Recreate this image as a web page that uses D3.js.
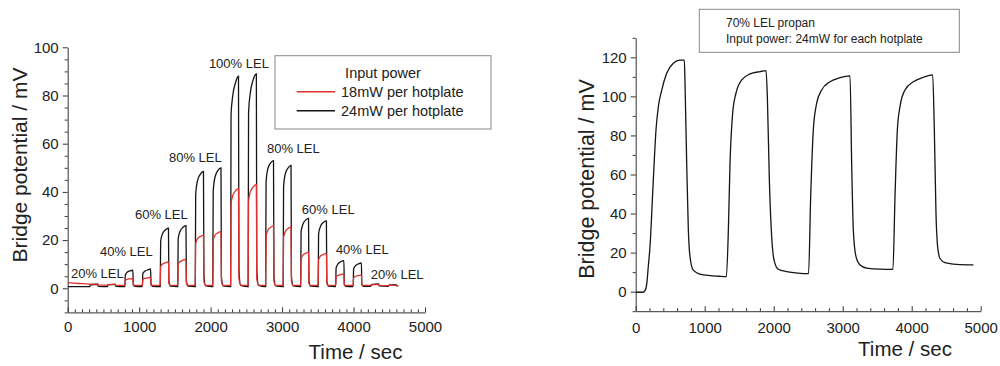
<!DOCTYPE html>
<html>
<head>
<meta charset="utf-8">
<script src="https://cdn.jsdelivr.net/npm/d3@7"></script>
<style>
  body { margin: 0; background: #fff; }
  svg { display: block; font-family: "Liberation Sans", Arial, sans-serif; }
</style>
</head>
<body>
<svg id="chart" width="1000" height="366"></svg>
<script>
// ---- left panel: 18 / 24 mW per hotplate, LEL steps ----
const black24 = [
  [0,0.7],[300,0.7],
  [310,0.7],[318,1.4],[420,1.6],[428,0.8],[550,0.7],
  [555,0.7],[562,1.4],[665,1.6],[673,0.8],[795,0.7],
  [800,0.7],[806,5.5],[830,6.6],[870,7.2],[912,7.5],[918,1.5],[940,0.8],[1040,0.7],
  [1045,0.7],[1051,6],[1075,7],[1115,7.6],[1160,8],[1166,1.5],[1190,0.8],[1290,0.7],
  [1295,0.7],[1301,19.5],[1325,22.5],[1365,24.2],[1410,25],[1416,3],[1440,0.9],[1535,0.7],
  [1540,0.7],[1546,20.5],[1570,23.5],[1610,25.2],[1655,26],[1661,3],[1685,0.9],[1780,0.7],
  [1785,0.7],[1791,39],[1815,44.5],[1855,47.3],[1900,48.5],[1906,5],[1930,1],[2025,0.7],
  [2030,0.7],[2036,40],[2060,46],[2100,48.8],[2145,50],[2151,5],[2175,1],[2275,0.7],
  [2280,0.7],[2286,72],[2310,80],[2350,85.5],[2390,88],[2396,8],[2420,1.2],[2520,0.7],
  [2525,0.7],[2531,73],[2555,81],[2595,86.5],[2640,89],[2646,8],[2670,1.2],[2765,0.7],
  [2770,0.7],[2776,44],[2800,49.5],[2840,52],[2880,53],[2886,5],[2910,1],[3010,0.7],
  [3015,0.7],[3021,42],[3045,47.5],[3085,50],[3125,51],[3131,5],[3155,1],[3255,0.7],
  [3260,0.7],[3266,23.5],[3290,26.5],[3330,28.3],[3370,29],[3376,3],[3400,0.9],[3500,0.7],
  [3505,0.7],[3511,22.5],[3535,25.5],[3575,27.3],[3620,28],[3626,3],[3650,0.9],[3745,0.7],
  [3750,0.7],[3756,8.5],[3780,10],[3820,11],[3865,11.5],[3871,1.5],[3895,0.8],[3990,0.7],
  [3995,0.7],[4001,8],[4025,9.3],[4065,10.1],[4110,10.5],[4116,1.5],[4140,0.8],[4235,0.8],
  [4240,0.8],[4248,1.5],[4350,1.8],[4358,1],[4480,0.8],
  [4485,0.8],[4493,1.3],[4595,1.5],[4603,1],[4625,1]
];

const red18 = [
  [0,2.4],[150,2.0],[300,1.7],
  [310,1.6],[318,1.7],[420,1.8],[428,1.4],[550,1.3],
  [555,1.3],[562,1.5],[665,1.7],[673,1.3],[795,1.2],
  [800,1.2],[806,3.2],[830,3.7],[870,3.9],[912,4],[918,1.6],[940,1.2],[1040,1.2],
  [1045,1.2],[1051,3.6],[1075,4.1],[1115,4.3],[1160,4.5],[1166,1.6],[1190,1.2],[1290,1.2],
  [1295,1.2],[1301,9],[1325,10],[1365,10.6],[1410,11],[1416,2],[1440,1.2],[1535,1.2],
  [1540,1.2],[1546,10],[1570,11],[1610,11.6],[1655,12],[1661,2],[1685,1.2],[1780,1.2],
  [1785,1.2],[1791,18.5],[1815,20.5],[1855,21.5],[1900,22],[1906,3],[1930,1.2],[2025,1.2],
  [2030,1.2],[2036,19.5],[2060,22],[2100,23],[2145,23.5],[2151,3],[2175,1.2],[2275,1.2],
  [2280,1.2],[2286,35],[2310,38.5],[2350,40.5],[2390,41.5],[2396,4],[2420,1.3],[2520,1.2],
  [2525,1.2],[2531,36],[2555,40],[2595,42],[2640,43],[2646,4],[2670,1.3],[2765,1.2],
  [2770,1.2],[2776,21.5],[2800,24],[2840,25.3],[2880,26],[2886,3],[2910,1.2],[3010,1.2],
  [3015,1.2],[3021,21],[3045,23.5],[3085,24.8],[3125,25.5],[3131,3],[3155,1.2],[3255,1.2],
  [3260,1.2],[3266,12],[3290,13.7],[3330,14.5],[3370,15],[3376,2],[3400,1.2],[3500,1.2],
  [3505,1.2],[3511,11.8],[3535,13.3],[3575,14],[3620,14.5],[3626,2],[3650,1.2],[3745,1.2],
  [3750,1.2],[3756,4.6],[3780,5.3],[3820,5.7],[3865,6],[3871,1.5],[3895,1.2],[3990,1.2],
  [3995,1.2],[4001,4.3],[4025,4.9],[4065,5.3],[4110,5.5],[4116,1.5],[4140,1.2],[4235,1.2],
  [4240,1.2],[4248,1.4],[4350,1.6],[4358,1.2],[4480,1.1],
  [4485,1.1],[4493,1.2],[4595,1.3],[4603,1.1],[4625,1.1]
];

const lelLabels = ["20% LEL","40% LEL","60% LEL","80% LEL","100% LEL","80% LEL","60% LEL","40% LEL","20% LEL"];
const lelTime   = [46, 452, 941, 1417, 1976, 2788, 3277, 3753, 4242];
const lelValue  = [4.1, 13.5, 28.8, 52.5, 91.5, 56, 30.8, 14.2, 3.9];

const leftLegendTitle = "Input power";
const leftLegendItems = ["18mW per hotplate", "24mW per hotplate"];

// ---- right panel: 70% LEL propane, 24 mW ----
const propan70 = [
  [0,-0.3],[60,-0.3],[106,-0.3],[135,0.5],[160,4],[183,13],[207,23],[255,57],[294,82.8],
  [328,94.7],[376,103],[449,111.8],[545,117],[642,118.6],[705,118.6],
  [714,108],[739,65.7],[763,31.6],[787,17.9],[835,11],[932,9],[1077,8.2],[1200,7.9],[1314,7.7],
  [1343,31.6],[1367,65.7],[1405,91.3],[1453,101.6],[1536,108.4],[1657,111.5],[1802,112.7],[1889,113.2],
  [1908,99.8],[1937,57],[1971,28],[2005,16.2],[2067,11.5],[2188,10.3],[2350,9.5],[2505,9.2],
  [2536,48.6],[2574,82.8],[2623,96.5],[2695,103.3],[2816,107.5],[2961,109.6],[3106,110.5],
  [3130,65.7],[3154,31.6],[3193,17.9],[3251,13.7],[3348,12.1],[3541,11.5],[3728,11.4],
  [3758,48.6],[3792,82.8],[3830,94.7],[3903,103.3],[4024,107.5],[4169,109.8],[4304,111],
  [4328,82.8],[4352,40],[4376,23],[4410,17],[4483,14.9],[4652,14],[4894,13.7]
];

const rightNote = ["70% LEL propan", "Input power: 24mW for each hotplate"];

const svg = d3.select("#chart");
const ink = "#222";

function drawAxes(x, y, o) {
  const g = svg.append("g");
  // minor ticks
  g.append("g")
    .attr("transform", "translate(0," + y.range()[0] + ")")
    .call(d3.axisBottom(x).tickValues(o.xMinor).tickSizeInner(-3).tickSizeOuter(0).tickFormat(""))
    .call(s => s.select(".domain").remove());
  g.append("g")
    .attr("transform", "translate(" + x.range()[0] + ",0)")
    .call(d3.axisLeft(y).tickValues(o.yMinor).tickSizeInner(3).tickSizeOuter(0).tickFormat(""))
    .call(s => s.select(".domain").remove());
  // major ticks
  g.append("g")
    .attr("transform", "translate(0," + y.range()[0] + ")")
    .call(d3.axisBottom(x).tickValues(o.xMajor).tickSizeInner(-5).tickSizeOuter(0).tickPadding(o.xPad).tickFormat(d3.format("d")));
  g.append("g")
    .attr("transform", "translate(" + x.range()[0] + ",0)")
    .call(d3.axisLeft(y).tickValues(o.yMajor).tickSizeInner(5).tickSizeOuter(0).tickPadding(4).tickFormat(d3.format("d")));
  g.selectAll(".domain, line").attr("stroke", "#333");
  g.selectAll("text").attr("fill", ink).style("font-size", "15px")
    .style("font-family", "'Liberation Sans', Arial, sans-serif");
}

// left panel
const xL = d3.scaleLinear().domain([0, 5000]).range([67.7, 425]);
const yL = d3.scaleLinear().domain([-10, 100]).range([312.4, 47.3]);

drawAxes(xL, yL, {
  xMajor: d3.range(0, 5001, 1000),
  xMinor: d3.range(0, 5001, 100).filter(d => d % 1000),
  yMajor: d3.range(0, 101, 20),
  yMinor: d3.range(-10, 101, 5).filter(d => d % 20),
  xPad: 9
});

const lineL = d3.line().x(d => xL(d[0])).y(d => yL(d[1])).curve(d3.curveMonotoneX);
svg.append("path").datum(black24).attr("d", lineL)
  .attr("fill", "none").attr("stroke", "#151515").attr("stroke-width", 1.3);
svg.append("path").datum(red18).attr("d", lineL)
  .attr("fill", "none").attr("stroke", "#e0312c").attr("stroke-width", 1.3);

svg.append("g").selectAll("text")
  .data(lelLabels)
  .join("text")
  .attr("x", (d, i) => xL(lelTime[i]))
  .attr("y", (d, i) => yL(lelValue[i]))
  .attr("fill", ink)
  .style("font-size", "13px")
  .text(d => d);

// left legend
const lg = svg.append("g");
lg.append("rect").attr("x", 275).attr("y", 55.7).attr("width", 216).attr("height", 73.3)
  .attr("fill", "#fff").attr("stroke", "#888").attr("stroke-width", 1);
lg.append("text").attr("x", 383).attr("y", 78).attr("text-anchor", "middle")
  .attr("fill", ink).style("font-size", "14.5px").text(leftLegendTitle);
const legendColors = ["#e0312c", "#151515"];
leftLegendItems.forEach((t, i) => {
  const yy = 96.7 + i * 19;
  lg.append("line").attr("x1", 296.7).attr("x2", 335).attr("y1", yy - 5).attr("y2", yy - 5)
    .attr("stroke", legendColors[i]).attr("stroke-width", 1.5);
  lg.append("text").attr("x", 341).attr("y", yy).attr("fill", ink)
    .style("font-size", "14.5px").text(t);
});

svg.append("text")
  .attr("transform", "translate(27,165) rotate(-90)")
  .attr("text-anchor", "middle").attr("fill", ink).style("font-size", "21px")
  .text("Bridge potential / mV");
svg.append("text")
  .attr("x", 355.5).attr("y", 359).attr("text-anchor", "middle")
  .attr("fill", ink).style("font-size", "20.5px").text("Time / sec");

// right panel
const xR = d3.scaleLinear().domain([0, 5000]).range([635.7, 980.7]);
const yR = d3.scaleLinear().domain([-10, 130]).range([311.2, 37.8]);

drawAxes(xR, yR, {
  xMajor: d3.range(0, 5001, 1000),
  xMinor: d3.range(0, 5001, 200).filter(d => d % 1000),
  yMajor: d3.range(0, 121, 20),
  yMinor: d3.range(-10, 131, 10).filter(d => d % 20),
  xPad: 11
});

const lineR = d3.line().x(d => xR(d[0])).y(d => yR(d[1])).curve(d3.curveMonotoneX);
svg.append("path").datum(propan70).attr("d", lineR)
  .attr("fill", "none").attr("stroke", "#151515").attr("stroke-width", 1.3);

const rg = svg.append("g");
rg.append("rect").attr("x", 699.3).attr("y", 9.3).attr("width", 260).attr("height", 43)
  .attr("fill", "#fff").attr("stroke", "#888").attr("stroke-width", 1);
rightNote.forEach((t, i) => {
  rg.append("text").attr("x", 726).attr("y", 26.7 + i * 16.6).attr("fill", ink)
    .style("font-size", "12px").text(t);
});

svg.append("text")
  .attr("transform", "translate(594,179) rotate(-90)")
  .attr("text-anchor", "middle").attr("fill", ink).style("font-size", "21.5px")
  .text("Bridge potential / mV");
svg.append("text")
  .attr("x", 905).attr("y", 356).attr("text-anchor", "middle")
  .attr("fill", ink).style("font-size", "20.5px").text("Time / sec");
</script>
</body>
</html>
